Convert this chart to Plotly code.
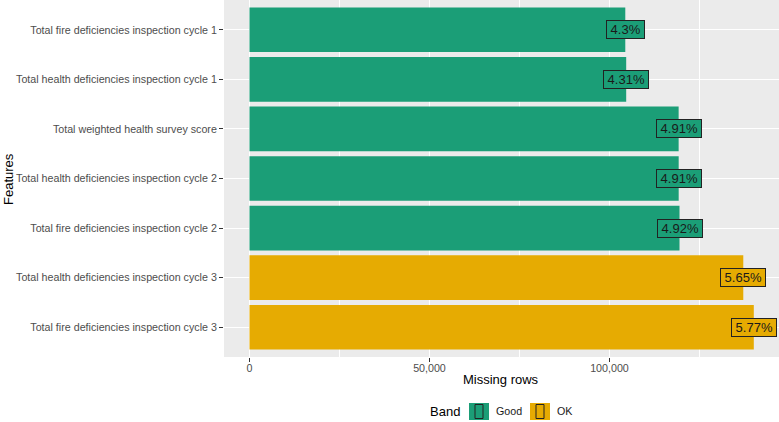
import plotly.graph_objects as go

features = [
    "Total fire deficiencies inspection cycle 1",
    "Total health deficiencies inspection cycle 1",
    "Total weighted health survey score",
    "Total health deficiencies inspection cycle 2",
    "Total fire deficiencies inspection cycle 2",
    "Total health deficiencies inspection cycle 3",
    "Total fire deficiencies inspection cycle 3",
]
missing_rows = [104400, 104650, 119220, 119230, 119460, 137180, 140100]
pct_labels = ["4.3%", "4.31%", "4.91%", "4.91%", "4.92%", "5.65%", "5.77%"]
band = ["Good", "Good", "Good", "Good", "Good", "OK", "OK"]
band_names = ["Good", "OK"]
band_colors = {"Good": "#1B9E77", "OK": "#E6AB02"}
x_ticks = [0, 50000, 100000]

W, H = 779, 422
ML, MR, MT, MB = 224, 0, 0, 65
PW, PH = W - ML - MR, H - MT - MB
FONT = "Liberation Sans, Arial, sans-serif"

def px(x):
    return (x - ML) / PW

def py(y):
    return (H - MB - y) / PH

fig = go.Figure()
for b in band_names:
    xs = [v for v, bb in zip(missing_rows, band) if bb == b]
    ys = [f for f, bb in zip(features, band) if bb == b]
    fig.add_trace(go.Bar(
        x=xs, y=ys, orientation="h", name=b,
        marker=dict(color=band_colors[b], line=dict(width=0)),
        width=0.9, showlegend=False, hoverinfo="skip",
    ))

TS = "\u2009"
for f, v, lab, b in zip(features, missing_rows, pct_labels, band):
    fig.add_annotation(
        x=v, y=f, text=TS + lab + TS, showarrow=False, xanchor="center", yanchor="middle",
        font=dict(family=FONT, size=13, color="#1a1a1a"),
        bgcolor=band_colors[b], bordercolor="#222222", borderwidth=1, borderpad=1,
    )

# axis titles
fig.add_annotation(x=px(501), y=py(379.5), xref="paper", yref="paper", text="Missing rows",
                   showarrow=False, xanchor="center", yanchor="middle",
                   font=dict(family=FONT, size=13, color="#000000"))
fig.add_annotation(x=px(8), y=py(179), xref="paper", yref="paper", text="Features",
                   showarrow=False, xanchor="center", yanchor="middle", textangle=-90,
                   font=dict(family=FONT, size=13, color="#000000"))

# manual legend (ggplot style, bottom)
leg_y = 411.5
fig.add_annotation(x=px(445), y=py(leg_y), xref="paper", yref="paper", text="Band",
                   showarrow=False, xanchor="center", yanchor="middle",
                   font=dict(family=FONT, size=13, color="#000000"))
key_pos = [(469, 509, "Good"), (530, 565, "OK")]
for kx, tx, b in key_pos:
    fig.add_shape(type="rect", xref="paper", yref="paper",
                  x0=px(kx), x1=px(kx + 20), y0=py(leg_y + 8.5), y1=py(leg_y - 8.5),
                  fillcolor=band_colors[b], line=dict(width=0), layer="above")
    fig.add_shape(type="rect", xref="paper", yref="paper",
                  x0=px(kx + 6), x1=px(kx + 14), y0=py(leg_y + 7), y1=py(leg_y - 7),
                  fillcolor="rgba(0,0,0,0)", line=dict(width=1, color="#222222"), layer="above")
    fig.add_annotation(x=px(tx), y=py(leg_y), xref="paper", yref="paper", text=b,
                       showarrow=False, xanchor="center", yanchor="middle",
                       font=dict(family=FONT, size=10.7, color="#1a1a1a"))

fig.update_layout(
    width=W, height=H,
    margin=dict(l=ML, r=MR, t=MT, b=MB, pad=0),
    paper_bgcolor="white", plot_bgcolor="#EBEBEB",
    bargap=0.1,
    font=dict(family=FONT),
    xaxis=dict(
        range=[-7080, 147100], tickvals=x_ticks, tickformat=",",
        showgrid=True, gridcolor="white", gridwidth=1.1, zeroline=False,
        minor=dict(dtick=25000, tick0=0, showgrid=True, gridcolor="white", gridwidth=0.5),
        ticks="outside", ticklen=4, tickcolor="#333333", tickwidth=1,
        tickfont=dict(family=FONT, size=10.7, color="#4D4D4D"),
        ticklabelstandoff=-3,
        showline=False,
    ),
    yaxis=dict(
        categoryorder="array", categoryarray=features,
        range=[6.6, -0.6],
        showgrid=True, gridcolor="white", gridwidth=1.1, zeroline=False,
        ticks="outside", ticklen=4, tickcolor="#333333", tickwidth=1,
        tickfont=dict(family=FONT, size=10.7, color="#4D4D4D"),
        showline=False,
    ),
)

fig.write_html("out.html")
